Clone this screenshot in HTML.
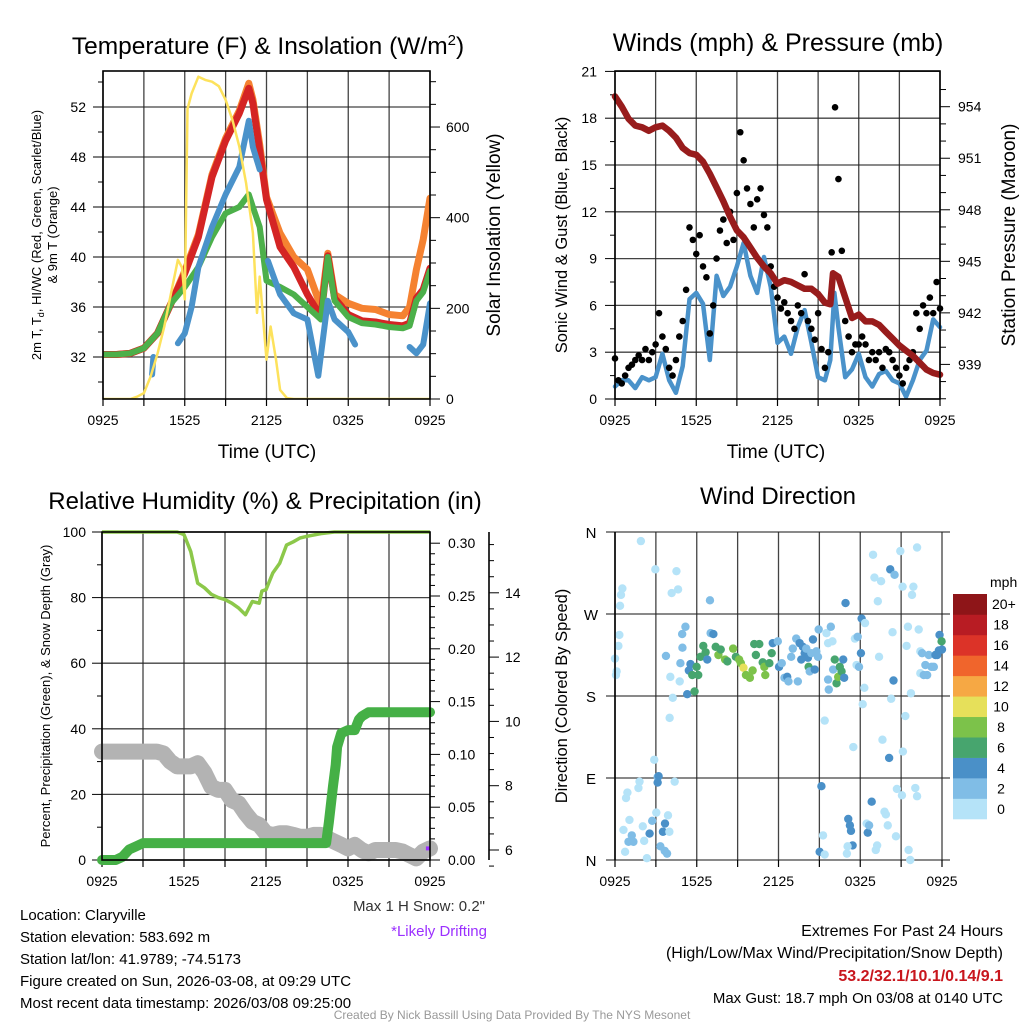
<!DOCTYPE html>
<html><head><meta charset="utf-8"><title>Mesonet Station Chart</title>
<style>
html,body{margin:0;padding:0;background:#fff;}
svg{display:block;font-family:"Liberation Sans",Arial,sans-serif;}
</style></head>
<body>
<svg id="chart" width="1024" height="1024" viewBox="0 0 1024 1024" xmlns="http://www.w3.org/2000/svg">
<rect width="1024" height="1024" fill="#fff"/>
</svg>
<script>
// ===== Panel 1: temperature & insolation =====
const tempT = [0,1,2,3,4,5,6,7,8,9,10,10.7,11,11.5,12,13,14,15,16,16.5,17,18,19,20,21,22,22.5,23,23.5,24];
const tempRed = [32.2,32.2,32.3,32.7,33.9,36.3,38.7,41.6,46.4,49.3,51.5,53.5,52.3,48.5,44.6,40.8,39.2,37,35.2,40.1,36.7,35.4,34.9,34.8,34.6,34.5,34.7,36.7,37.4,39.1];
const tempOrange = [32.2,32.2,32.3,32.7,33.9,36.3,38.9,41.8,46.6,49.5,51.7,53.9,52.6,49,44.8,41.9,40,39,36,40.3,37,36.3,35.9,35.8,35.4,35.3,36,39,41.4,44.7];
const tempGreen = [32.2,32.2,32.3,32.7,33.9,36.3,37.6,39.2,41.6,43.5,44,45,44,42.4,38.1,37.6,37,36,35,40,36.5,35.2,34.7,34.6,34.4,34.3,34.5,36.5,37.2,38.9];
const blueT = [3.6,3.7,4,5.5,6,6.5,7,8,9,10,10.7,11,11.5,11.8,12.1,12.5,13,14,15,15.8,16.5,17,18,18.5,20,22.5,23,23.5,24];
const blueV = [30.6,32.0,null,33.1,33.9,36,39.2,42.4,45,47.2,50.9,48.8,47,null,39.7,38.5,37,35.5,35,30.5,36.5,35,34,33,null,32.8,32.3,33.0,36.3];
const solarT = [0,2,2.5,3,3.5,4,4.5,5,5.5,5.8,6,6.2,6.5,7,7.5,8,8.5,9,9.5,10,10.5,11,11.3,11.5,12,12.3,12.7,13,13.5,14,24];
const solarV = [0,0,5,13,50,100,160,234,307,290,220,640,674,711,704,700,690,660,616,557,476,366,190,270,87,160,87,20,2,0,0];
const tempTicks = [32,36,40,44,48,52];
const solarTicks = [0,200,400,600];
const timeLabels = ["0925","1525","2125","0325","0925"];

// ===== Panel 2: wind & pressure =====
const pressT = [0,0.5,1,1.5,2,2.5,3,3.5,4,4.5,5,5.5,6,6.5,7,7.5,8,8.5,9,9.5,10,10.5,11,11.5,12,12.5,13,13.5,14,14.5,15,15.5,15.9,16.1,16.5,17,17.5,18,18.5,19,19.5,20,20.5,21,21.5,22,22.5,23,23.5,24];
const pressV = [954.6,954.0,953.3,952.9,952.8,952.6,952.8,952.9,952.6,952.2,951.6,951.3,951.2,950.8,950.1,949.3,948.5,947.6,946.8,946.4,945.8,945.2,944.7,944.3,943.7,943.9,943.8,943.6,943.4,943.4,943.1,942.6,942.5,944.3,944.1,942.9,941.7,941.9,941.5,941.5,941.3,940.9,940.5,940.1,939.8,939.5,939.1,938.7,938.5,938.4];
const windT = [0,0.5,1,1.5,2,2.5,3,3.5,4,4.5,5,5.5,6,6.5,7,7.5,8,8.5,9,9.5,10,10.5,11,11.5,12,12.5,13,13.5,14,14.5,15,15.5,15.9,16.2,16.5,17,17.5,18,18.5,19,19.5,20,20.5,21,21.5,22,22.5,23,23.5,24];
const windV = [0.8,1.2,1.2,0.7,1.4,1.2,1.4,2.9,1.2,0.4,2.1,6.4,6.8,6.1,2.5,7.9,6.6,7.2,8.5,10.0,7.9,6.8,9.1,7.2,3.6,4.0,2.9,4.6,5.7,3.6,1.4,1.2,2.5,6.8,4.6,1.4,1.9,2.9,1.4,0.8,1.6,1.8,1.2,1.0,0.15,1.2,2.5,3.1,5.1,4.6];
const gustV = [2.6,1.2,1.0,1.5, 2.0,2.2,2.5,2.8, 2.5,3.2,2.5,3.0, 3.5,5.5,4.0,3.2, 2.0,1.5,2.5,4.0, 5.0,7.0,11.0,10.2, 9.3,10.5,8.5,7.8, 4.2,6.0,9.0,10.8, 11.5,10.0,12.0,10.2, 13.2,17.1,15.3,13.5, 12.5,11.0,12.8,13.5, 11.8,11.0,8.5,7.2, 6.5,5.8,6.2,5.5, 5.0,4.5,6.0,5.5, 8.0,5.0,4.5,3.8, 5.5,3.2,2.0,3.0, 9.4,18.7,14.1,9.5, 5.0,4.0,3.0,3.5, 3.5,4.0,3.5,2.5, 3.0,2.5,3.0,2.0, 3.2,3.0,2.5,2.0, 1.5,1.0,2.0,2.5, 3.0,5.5,4.5,6.0, 5.5,6.5,5.5,7.5, 5.8];
const windTicks = [0,3,6,9,12,15,18,21];
const pressTicks = [939,942,945,948,951,954];

// ===== Panel 3: RH, precip, snow =====
const rhT = [0,5.5,6,6.5,7,7.5,8,8.5,9,9.5,10,10.5,11,11.5,11.7,12,12.5,13,13.5,14,14.5,15,16,17,24];
const rhV = [100,100,99.2,94,84.4,83,81,80,79.4,78.3,76.8,74.8,78.8,78.3,82,82.4,87.5,90.5,96,97,98.2,98.7,99.5,100,100];
const prT = [0,1,1.5,2,2.5,3,3.5,16.4,16.6,16.9,17.1,17.2,17.5,18,18.5,18.8,19,19.5,24];
const prV = [0,0,0.003,0.01,0.013,0.016,0.016,0.016,0.036,0.07,0.09,0.107,0.12,0.123,0.123,0.133,0.136,0.14,0.14];
const snowV = [9.06,9.06,9.06,9.06,9.06,9.06,9.06,9.06,9.06,9.0,8.75,8.6,8.6,8.6,8.7,8.4,7.97,7.87,7.87,7.55,7.45,7.14,6.88,6.78,6.52,6.47,6.52,6.52,6.47,6.41,6.41,6.47,6.47,6.36,6.26,6.16,6.05,6.16,6.0,5.9,6.0,6.0,6.0,6.0,5.95,5.84,5.74,5.95,6.05];
const rhTicks = [0,20,40,60,80,100];
const prTicks = ["0.00","0.05","0.10","0.15","0.20","0.25","0.30"];
const snowTicks = [6,8,10,12,14];

// ===== Panel 4: wind direction =====
const dirH = [0,0.07,0.12,0.25,0.32,0.37,0.44,0.54,1.9,2.96,4.51,4.16,4.63,6.97,0.62,0.81,0.91,1.06,1.23,1.35,0.99,0.74,1.72,1.8,2.04,2.14,2.34,2.54,2.73,2.88,3.03,3.13,3.2,3.13,3.33,3.52,3.67,3.89,3.99,3.65,3.82,4.38,4.01,4.24,4.06,4.75,3.74,4.8,4.95,5.17,4.93,5.3,5.42,5.54,5.67,5.84,5.99,6.11,6.28,6.48,6.65,6.77,7.02,7.22,7.39,7.59,7.76,8.08,8.25,8.67,8.87,9.11,9.24,9.43,9.61,9.9,10.1,10.22,10.34,10.59,10.84,10.96,11.03,11.33,11.5,11.58,11.95,12.04,12.24,12.44,12.64,12.73,12.93,13.05,13.3,13.42,13.55,13.67,13.79,13.92,14.04,14.16,14.21,14.29,14.41,14.53,14.66,14.78,14.9,14.95,15.52,15.64,15.84,15.96,15.39,15.15,15.27,15.02,15.39,15.64,15.69,16.01,16.13,16.26,16.38,16.5,16.63,16.75,16.82,16.92,17.12,17.24,17.32,17.44,17.07,17.02,17.49,17.61,17.73,17.81,17.91,18.05,18.1,18.18,18.3,18.35,18.47,18.55,18.65,18.84,18.94,19.04,19.14,19.24,19.29,19.38,19.53,19.63,19.78,19.88,20.02,20.12,20.2,20.27,20.44,20.37,20.52,20.62,20.69,20.94,21.11,21.06,21.13,21.31,21.4,21.5,21.55,21.67,21.72,21.8,21.9,22.04,22.17,22.17,22.29,22.41,22.41,22.54,22.66,22.78,22.91,23.03,23.23,23.4,23.52,23.65,23.77,23.82,23.97,24];
const dirDeg = [221,203,207,235,247,279,291,298,350,319,317,293,297,285,33,68,74,44,27,20,20,9,79,86,37,21,2,29,43,110,52,91,92,85,15,31,40,49,31,10,7,86,156,178,201,196,224,216,233,256,248,182,208,215,203,185,212,203,223,235,228,220,249,248,234,225,231,220,218,232,223,220,216,211,203,200,208,237,225,237,217,212,203,216,227,238,240,212,216,200,201,196,223,232,243,196,238,220,234,227,232,222,212,207,227,242,209,229,223,253,249,238,256,240,153,81,27,9,6,198,187,209,220,194,201,212,207,220,200,282,45,38,32,16,15,7,124,243,214,245,212,227,265,171,189,260,40,30,38,64,335,310,11,16,284,223,306,132,53,50,38,112,319,177,197,250,313,26,78,339,300,71,119,158,235,256,11,0,183,291,300,79,70,343,253,229,205,227,203,214,203,225,212,212,225,225,230,247,240,231];
const dirSpd = [1,1,1,1,1,1,1,1,1,1,1,1,1,3,1,1,1,1,3,3,3,1,1,1,1,1,1,5,3,1,1,3,5,5,3,5,5,1,1,3,3,1,1,1,1,1,3,3,3,3,3,5,5,5,7,7,7,7,7,7,7,5,3,5,7,9,7,9,7,9,7,9,9,10.5,9,9,9,7,7,7,7,9,9,7,7,5,3,5,3,3,5,3,3,3,3,3,5,5,5,5,3,5,7,3,3,5,5,3,3,3,1,1,3,1,1,5,1,5,1,3,3,3,7,7,9,7,7,5,5,5,5,5,5,5,1,1,1,1,1,3,3,5,5,1,1,1,1,5,3,5,1,1,1,1,1,1,1,1,1,1,1,5,5,1,5,1,3,1,1,1,1,1,1,1,1,1,1,1,1,1,1,1,1,1,1,1,1,3,3,3,3,3,3,3,5,5,5,5,7,5,5,5];
const speedBins = ["0","2","4","6","8","10","12","14","16","18","20+"];
const binColors = ["#b5e3f8","#80bde6","#4a90c8","#47a56e","#7cc24a","#e6e05a","#f6a844","#f0652c","#dc3328","#b81c23","#8e1518"];
const dirLabels = ["N","E","S","W","N"];

const NS = 'http://www.w3.org/2000/svg';
const svg = document.getElementById('chart');
function mk(tag, attrs, parent){
  const e = document.createElementNS(NS, tag);
  for (const k in attrs) e.setAttribute(k, attrs[k]);
  (parent || svg).appendChild(e);
  return e;
}
function txt(str, x, y, size, anchor, parent, extra){
  const t = mk('text', Object.assign({x:x, y:y, 'font-size':size, 'text-anchor':anchor||'middle', fill:'#000'}, extra||{}), parent);
  t.textContent = str;
  return t;
}
function pathFrom(ts, vs, fx, fy){
  let d = '', pen = false;
  for (let i = 0; i < ts.length; i++){
    if (vs[i] === null){ pen = false; continue; }
    d += (pen ? 'L' : 'M') + fx(ts[i]).toFixed(1) + ' ' + fy(vs[i]).toFixed(1);
    pen = true;
  }
  return d;
}

// ---------- axis functions ----------
const x1 = h => 103 + h * 327 / 24;
const yT = t => 357 - (t - 32) * 12.5;
const yS = w => 399 - w * 0.4533;
const x2 = h => 615 + h * 325 / 24;
const yW = m => 399 - m * 15.6;
const yP = p => 106.7 + (954 - p) * 17.18;
const x3 = h => 102 + h * 328 / 24;
const yRH = r => 860 - r * 3.28;
const yPr = p => 860 - p * 1056;
const ySn = s => 850 - (s - 6) * 32.15;
const x4 = h => 615 + h * 327 / 24;
const yD = d => 860 - d * 328 / 360;

function grid(g, x0, x1p, y0, y1p, xs, ys, name){
  xs.forEach(x => {
    const l = mk('line', {x1:x, y1:y0, x2:x, y2:y1p, stroke:'#222', 'stroke-width':1.3, 'stroke-opacity':0.85}, g);
    
    
  });
  ys.forEach(y => {
    const l = mk('line', {x1:x0, y1:y, x2:x1p, y2:y, stroke:'#222', 'stroke-width':1.3, 'stroke-opacity':0.85}, g);
    
    
  });
}
function xAxis(g, fx, yb, name){
  for (let h = 0; h <= 24; h += 3){
    const l = mk('line', {x1:fx(h), y1:yb, x2:fx(h), y2:yb + 7, stroke:'#000', 'stroke-width':1.2}, g);
    
    
  }
  timeLabels.forEach((s, i) => {
    const t = txt(s, fx(i * 6), yb + 26, 14, 'middle', g);
    
    
  });
}

// ================= PANEL 1 =================
const g1 = mk('g', {});


{
  const xs = []; for (let h = 0; h <= 24; h += 3) xs.push(x1(h));
  grid(g1, 103, 430, 71, 399, xs, tempTicks.map(yT), 'temp');
  xAxis(g1, x1, 399, 'temp');
  for (let t = 30; t <= 54; t += 2){
    const major = t % 4 === 0;
    const l = mk('line', {x1:103, y1:yT(t), x2:major ? 93 : 98, y2:yT(t), stroke:'#000', 'stroke-width':1}, g1);
    
    
  }
  tempTicks.forEach(t => {
    const e = txt(String(t), 86, yT(t) + 5, 14, 'end', g1);
    
    
  });
  for (let w = 0; w <= 700; w += 50){
    const major = w % 200 === 0;
    const l = mk('line', {x1:430, y1:yS(w), x2:major ? 440 : 436, y2:yS(w), stroke:'#000', 'stroke-width':1}, g1);
    
    
  }
  solarTicks.forEach(w => {
    const e = txt(String(w), 446, yS(w) + 5, 14, 'start', g1);
    
    
  });
  const clip = mk('clipPath', {id:'c1'}, g1);
  mk('rect', {x:103, y:71, width:327, height:328}, clip);
  const series = mk('g', {'clip-path':'url(#c1)'}, g1);
  const lines = [
    ['temp-9m-line', tempT, tempOrange, '#f58231', 7],
    ['temp-2m-line', tempT, tempRed, '#d42424', 7],
    ['dewpoint-line', tempT, tempGreen, '#4cb04a', 6],
    ['windchill-line', blueT, blueV, '#4a92ca', 6]
  ];
  lines.forEach(s => {
    const p = mk('path', {d:pathFrom(s[1], s[2], x1, yT), fill:'none', stroke:s[3], 'stroke-width':s[4], 'stroke-linejoin':'round', 'stroke-linecap':'round'}, series);
    
    
  });
  const sp = mk('path', {d:pathFrom(solarT, solarV, x1, yS), fill:'none', stroke:'#fde25c', 'stroke-width':2.5, 'stroke-linejoin':'round'}, series);
  
  
  const fr = mk('rect', {x:103, y:71, width:327, height:328, fill:'none', stroke:'#000', 'stroke-width':1.6}, g1);
  
  
  const title = mk('text', {x:268, y:54, 'font-size':24.5, 'text-anchor':'middle'}, g1);
  title.innerHTML = 'Temperature (F) &amp; Insolation (W/m<tspan font-size="15" dy="-9">2</tspan><tspan dy="9">)</tspan>';
  
  
  const xl = txt('Time (UTC)', 267, 458, 19, 'middle', g1);
  
  
  const yl = mk('text', {x:0, y:0, 'font-size':13, 'text-anchor':'middle', transform:'translate(41,235) rotate(-90)'}, g1);
  yl.innerHTML = '2m T, T<tspan font-size="9" dy="3">d</tspan><tspan dy="-3">, HI/WC (Red, Green, Scarlet/Blue)</tspan>';
  
  
  const yl2 = mk('text', {x:0, y:0, 'font-size':13, 'text-anchor':'middle', transform:'translate(57,235) rotate(-90)'}, g1);
  yl2.textContent = '& 9m T (Orange)';
  
  
  const yr = mk('text', {x:0, y:0, 'font-size':19, 'text-anchor':'middle', transform:'translate(500,235) rotate(-90)'}, g1);
  yr.textContent = 'Solar Insolation (Yellow)';
  
  
}

// ================= PANEL 2 =================
const g2 = mk('g', {});


{
  const xs = []; for (let h = 0; h <= 24; h += 3) xs.push(x2(h));
  grid(g2, 615, 940, 71, 399, xs, windTicks.map(yW), 'wind');
  xAxis(g2, x2, 399, 'wind');
  for (let m = 0; m <= 21; m += 1.5){
    const major = m % 3 === 0;
    const l = mk('line', {x1:615, y1:yW(m), x2:major ? 605 : 610, y2:yW(m), stroke:'#000', 'stroke-width':1}, g2);
    
    
  }
  windTicks.forEach(m => {
    const e = txt(String(m), 597, yW(m) + 5, 14, 'end', g2);
    
    
  });
  for (let p = 937; p <= 955; p += 1){
    const major = p % 3 === 0;
    if (yP(p) < 71 || yP(p) > 399) continue;
    const l = mk('line', {x1:940, y1:yP(p), x2:major ? 950 : 946, y2:yP(p), stroke:'#000', 'stroke-width':1}, g2);
    
    
  }
  pressTicks.forEach(p => {
    const e = txt(String(p), 958, yP(p) + 5, 14, 'start', g2);
    
    
  });
  const clip = mk('clipPath', {id:'c2'}, g2);
  mk('rect', {x:610, y:68, width:335, height:334}, clip);
  const series = mk('g', {'clip-path':'url(#c2)'}, g2);
  const wl = mk('path', {d:pathFrom(windT, windV, x2, yW), fill:'none', stroke:'#4a92ca', 'stroke-width':4.5, 'stroke-linejoin':'round', 'stroke-linecap':'round'}, series);
  
  
  gustV.forEach((v, i) => {
    const c = mk('circle', {cx:x2(i * 0.25), cy:yW(v), r:3.3, fill:'#000'}, series);
    
    
  });
  const pl = mk('path', {d:pathFrom(pressT, pressV, x2, yP), fill:'none', stroke:'#981c1c', 'stroke-width':6.5, 'stroke-linejoin':'round', 'stroke-linecap':'round'}, series);
  
  
  const fr = mk('rect', {x:615, y:71, width:325, height:328, fill:'none', stroke:'#000', 'stroke-width':1.6}, g2);
  
  
  const title = txt('Winds (mph) & Pressure (mb)', 778, 51, 25, 'middle', g2);
  
  
  const xl = txt('Time (UTC)', 776, 458, 19, 'middle', g2);
  
  
  const yl = mk('text', {x:0, y:0, 'font-size':16.5, 'text-anchor':'middle', transform:'translate(567,235) rotate(-90)'}, g2);
  yl.textContent = 'Sonic Wind & Gust (Blue, Black)';
  
  
  const yr = mk('text', {x:0, y:0, 'font-size':19, 'text-anchor':'middle', transform:'translate(1015,235) rotate(-90)'}, g2);
  yr.textContent = 'Station Pressure (Maroon)';
  
  
}

// ================= PANEL 3 =================
const g3 = mk('g', {});


{
  const xs = []; for (let h = 0; h <= 24; h += 3) xs.push(x3(h));
  grid(g3, 102, 430, 532, 860, xs, rhTicks.map(yRH), 'rh');
  xAxis(g3, x3, 860, 'rh');
  for (let r = 0; r <= 100; r += 10){
    const major = r % 20 === 0;
    const l = mk('line', {x1:102, y1:yRH(r), x2:major ? 92 : 97, y2:yRH(r), stroke:'#000', 'stroke-width':1}, g3);
    
    
  }
  rhTicks.forEach(r => {
    const e = txt(String(r), 86, yRH(r) + 5, 14, 'end', g3);
    
    
  });
  for (let p = 0; p <= 0.31; p += 0.01){
    const major = Math.round(p * 100) % 5 === 0;
    const l = mk('line', {x1:430, y1:yPr(p), x2:major ? 440 : 435, y2:yPr(p), stroke:'#000', 'stroke-width':1}, g3);
    
    
  }
  prTicks.forEach(s => {
    const e = txt(s, 448, yPr(parseFloat(s)) + 5, 14, 'start', g3);
    
    
  });
  const sa = mk('line', {x1:489, y1:532, x2:489, y2:860, stroke:'#000', 'stroke-width':1.6}, g3);
  
  
  for (let s = 5.5; s <= 15.5; s += 0.5){
    const major = s % 2 === 0;
    const l = mk('line', {x1:489, y1:ySn(s), x2:major ? 499 : 494, y2:ySn(s), stroke:'#000', 'stroke-width':1}, g3);
    
    
  }
  snowTicks.forEach(s => {
    const e = txt(String(s), 505, ySn(s) + 5, 14, 'start', g3);
    
    
  });
  const clip = mk('clipPath', {id:'c3'}, g3);
  mk('rect', {x:90, y:528, width:350, height:345}, clip);
  const series = mk('g', {'clip-path':'url(#c3)'}, g3);
  const snT = snowV.map((v, i) => i * 0.5);
  const sn = mk('path', {d:pathFrom(snT, snowV, x3, ySn), fill:'none', stroke:'#b3b3b3', 'stroke-width':16, 'stroke-linejoin':'round', 'stroke-linecap':'round'}, series);
  
  
  const pr = mk('path', {d:pathFrom(prT, prV, x3, yPr), fill:'none', stroke:'#45b046', 'stroke-width':10, 'stroke-linejoin':'round', 'stroke-linecap':'round'}, series);
  
  
  const rh = mk('path', {d:pathFrom(rhT, rhV, x3, yRH), fill:'none', stroke:'#8cc84a', 'stroke-width':3.5, 'stroke-linejoin':'round'}, series);
  
  
  const dr = mk('line', {x1:x3(23.7), y1:ySn(6.05), x2:x3(24), y2:ySn(6.05), stroke:'#9b30ff', 'stroke-width':4}, series);
  
  
  const fr = mk('rect', {x:102, y:532, width:328, height:328, fill:'none', stroke:'#000', 'stroke-width':1.6}, g3);
  
  
  const title = txt('Relative Humidity (%) & Precipitation (in)', 265, 509, 24, 'middle', g3);
  
  
  const yl = mk('text', {x:0, y:0, 'font-size':13, 'text-anchor':'middle', transform:'translate(50,696) rotate(-90)'}, g3);
  yl.textContent = 'Percent, Precipitation (Green), & Snow Depth (Gray)';
  
  
  const ms = txt('Max 1 H Snow: 0.2"', 485, 911, 15, 'end', g3, {fill:'#333'});
  
  
  const ld = txt('*Likely Drifting', 487, 936, 15, 'end', g3, {fill:'#9b30ff'});
  
  
}

// ================= PANEL 4 =================
const g4 = mk('g', {});


{
  const xs = []; for (let h = 0; h <= 24; h += 3) xs.push(x4(h));
  grid(g4, 606, 950, 532, 860, xs, [0,90,180,270,360].map(yD), 'dir');
  xAxis(g4, x4, 860, 'dir');
  dirLabels.forEach((s, i) => {
    const e = txt(s, 591, yD(i * 90) + 6, 15, 'middle', g4);
    
    
  });
  const clip = mk('clipPath', {id:'c4'}, g4);
  mk('rect', {x:606, y:526, width:345, height:342}, clip);
  const series = mk('g', {'clip-path':'url(#c4)'}, g4);
  dirH.forEach((h, i) => {
    const bin = Math.min(10, Math.floor(dirSpd[i] / 2));
    const c = mk('circle', {cx:x4(h), cy:yD(dirDeg[i]), r:4.2, fill:binColors[bin]}, series);
    
    
  });
  const fr = mk('line', {x1:615, y1:532, x2:615, y2:860, stroke:'#000', 'stroke-width':1.6}, g4);
  
  
  const title = txt('Wind Direction', 778, 504, 24, 'middle', g4);
  
  
  const yl = mk('text', {x:0, y:0, 'font-size':16.5, 'text-anchor':'middle', transform:'translate(567,696) rotate(-90)'}, g4);
  yl.textContent = 'Direction (Colored By Speed)';
  
  
  const cb = mk('g', {}, g4);
  
  
  const binH = 225 / speedBins.length;
  speedBins.forEach((s, i) => {
    const y = 819 - (i + 1) * binH;
    const r = mk('rect', {x:953, y:y, width:34, height:binH + 0.3, fill:binColors[i]}, cb);
    
    
    const t = txt(s, i === 10 ? 992 : 1001, y + binH / 2 + 5, 14, i === 10 ? 'start' : 'middle', cb);
    
    
  });
  const unit = txt('mph', 990, 587, 14, 'start', cb);
  
  
}

// ================= Footer text =================
const info = ['Location: Claryville','Station elevation: 583.692 m','Station lat/lon: 41.9789; -74.5173','Figure created on Sun, 2026-03-08, at 09:29 UTC','Most recent data timestamp: 2026/03/08 09:25:00'];
info.forEach((s, i) => {
  const t = txt(s, 20, 920 + i * 22, 15, 'start');
  
  
});
const ex1 = txt('Extremes For Past 24 Hours', 1003, 936, 16, 'end');


const ex2 = txt('(High/Low/Max Wind/Precipitation/Snow Depth)', 1003, 958, 16, 'end');


const ex3 = txt('53.2/32.1/10.1/0.14/9.1', 1003, 981, 16, 'end', null, {fill:'#c8161d','font-weight':'bold'});


const ex4 = txt('Max Gust: 18.7 mph On 03/08 at 0140 UTC', 1003, 1003, 15, 'end');


const cr = txt('Created By Nick Bassill Using Data Provided By The NYS Mesonet', 512, 1019, 12, 'middle', null, {fill:'#999'});


</script>
</body></html>
